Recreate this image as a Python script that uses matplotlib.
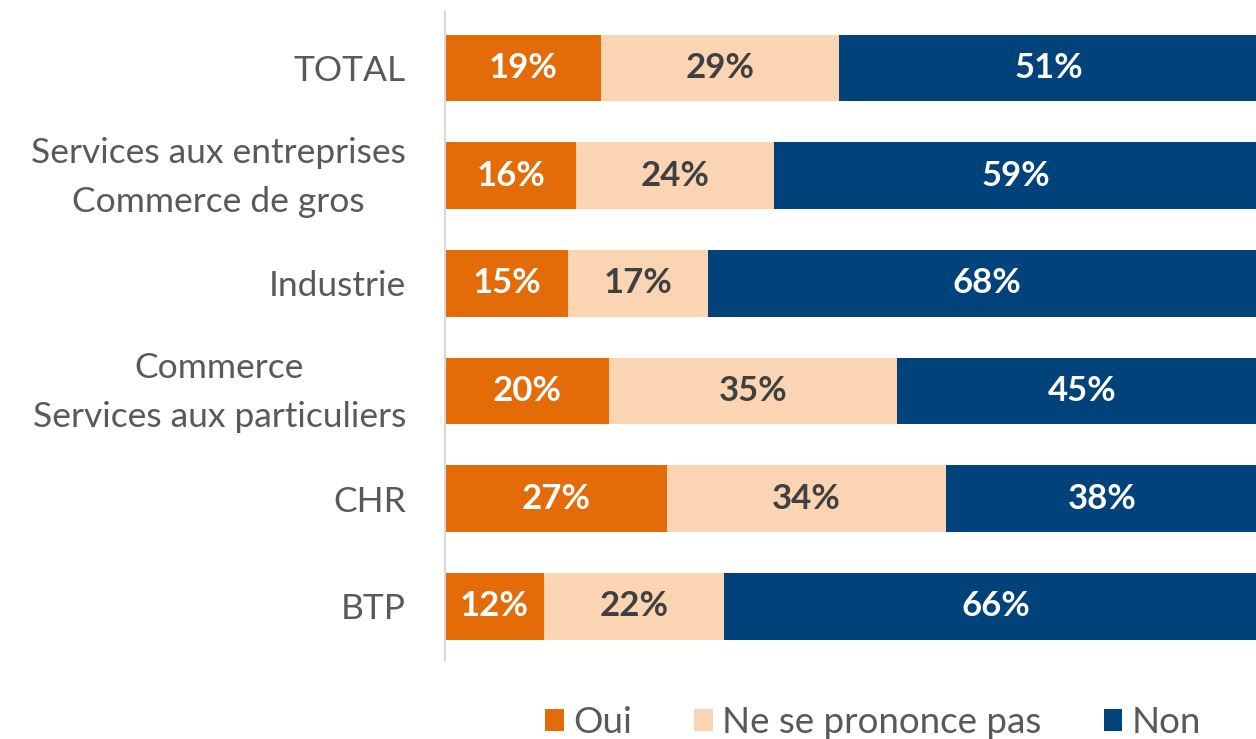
import matplotlib
matplotlib.use('Agg')
import matplotlib.pyplot as plt
import matplotlib.transforms as mtransforms
import numpy as np

categories = ['TOTAL', 'Services aux entreprises\nCommerce de gros', 'Industrie',
              'Commerce\nServices aux particuliers', 'CHR', 'BTP']
oui = [19, 16, 15, 20, 27, 12]
nsp = [29, 24, 17, 35, 34, 22]
non = [51, 59, 68, 45, 38, 66]
series_names = ['Oui', 'Ne se prononce pas', 'Non']

colors = ['#E36C09', '#FBD4B4', '#00427A']
label_colors = ['white', '#404040', 'white']

plt.rcParams['font.family'] = ['Lato', 'DejaVu Sans']

fig = plt.figure(figsize=(12.56, 7.39), dpi=100)
ax = fig.add_axes([445 / 1256, 1 - 660 / 739, 811 / 1256, 648 / 739])

y = np.arange(len(categories))
left = np.zeros(len(categories))
for vals, name, col, lc in zip([oui, nsp, non], series_names, colors, label_colors):
    bars = ax.barh(y, vals, left=left, height=0.62, color=col, label=name)
    for b, v in zip(bars, vals):
        ax.text(b.get_x() + b.get_width() / 2, b.get_y() + b.get_height() / 2,
                f'{v}%', ha='center', va='center', color=lc,
                fontsize=25, fontweight='bold')
    left += vals

ax.set_xlim(0, 98.7)
ax.set_ylim(5.5, -0.52)
ax.set_yticks(y)
ax.set_yticklabels(categories, fontsize=25.5, color='#595959',
                   multialignment='center', linespacing=1.65)
ax.tick_params(axis='y', length=0, pad=28)

# two-line labels sit a bit low, nudge them up
shift = mtransforms.ScaledTranslation(0, 0.1, fig.dpi_scale_trans)
for lab in ax.get_yticklabels():
    if '\n' in lab.get_text():
        lab.set_transform(lab.get_transform() + shift)

ax.set_xticks([])
for s in ['top', 'right', 'bottom']:
    ax.spines[s].set_visible(False)
ax.spines['left'].set_color('#D9D9D9')
ax.spines['left'].set_linewidth(1.5)

leg = fig.legend(loc='center', bbox_to_anchor=(0.695, 0.022), ncol=3,
                 frameon=False, fontsize=26.5, handlelength=0.5, handleheight=0.55,
                 handletextpad=0.25, columnspacing=1.7)
for t in leg.get_texts():
    t.set_color('#595959')

fig.savefig('out.png', dpi=100)
